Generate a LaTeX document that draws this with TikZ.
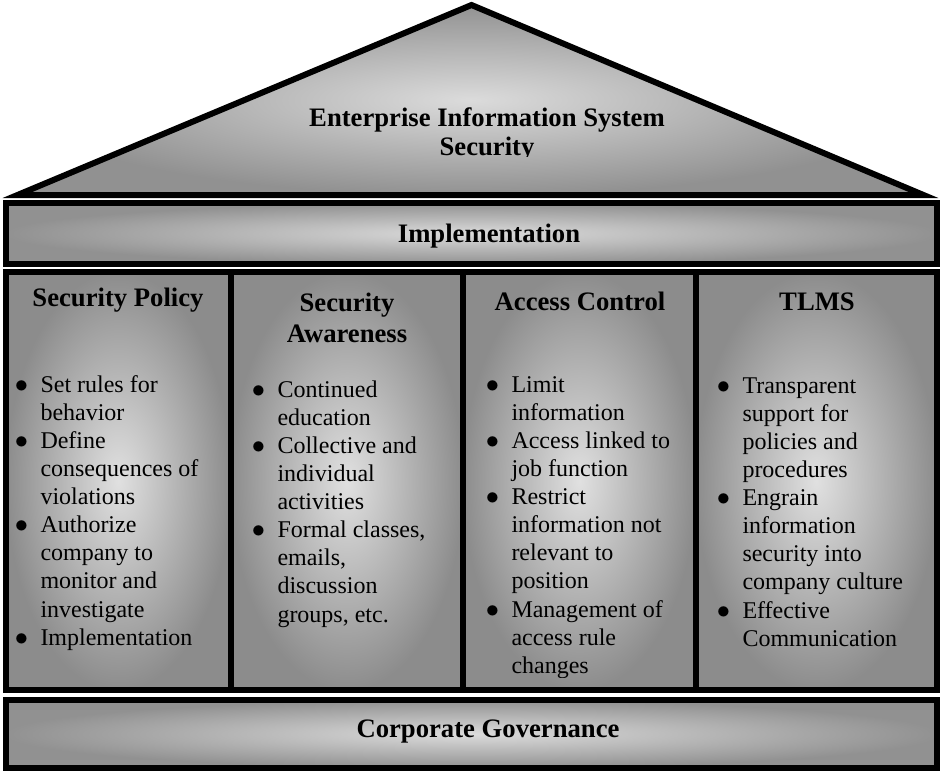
\documentclass[tikz,border=0pt]{standalone}
\usepackage{fontspec}
\setmainfont{Liberation Serif}
\usepackage{graphicx}
\usepackage{tikz}
\tikzset{every picture/.style={line width=0.75pt}}
\tikzset{
  pillar/.style={draw=black, line width=4.5pt, inner color=black!12, outer color=black!45},
  beam/.style={draw=black, line width=4.5pt, inner color=black!14, outer color=black!43},
  headtext/.style={font=\fontsize{20}{21.8}\selectfont\bfseries, inner sep=0.75pt, align=center},
  listtext/.style={font=\fontsize{18}{21.1}\selectfont, inner sep=0pt, anchor=base west},
}
\newcommand{\itemdot}{\makebox[7.5pt][c]{\scalebox{1.15}{$\bullet$}}}

\begin{document}
\begin{tikzpicture}[x=0.75pt,y=0.75pt,yscale=-1,xscale=1]
\useasboundingbox (0,0) rectangle (940,772);

%Shape: Triangle (roof)
\draw [beam, line join=miter, miter limit=25]  (17.5,195) -- (471.5,5) -- (923.5,195) -- cycle ;
%Shape: Rectangle (top beam)
\draw [beam]  (6,203) rectangle (937,264) ;
%Shape: Rectangle (pillars)
\draw [pillar]  (6,272) rectangle (230.5,690) ;
\draw [pillar]  (230.5,272) rectangle (463,690) ;
\draw [pillar]  (463,272) rectangle (695.5,690) ;
\draw [pillar]  (695.5,272) rectangle (937,690) ;
%Shape: Rectangle (base)
\draw [beam]  (6,700) rectangle (937,768) ;

% Text Node
\begin{scope}
\clip (290,90) rectangle (690,156.5);
\draw (487,106) node (roof) [anchor=north, headtext] {Enterprise Information System\\Security};
\end{scope}
% Text Node
\draw (489,242) node (impl) [anchor=base, headtext] {Implementation};
% Text Node
\draw (488,737) node (gov) [anchor=base, headtext] {Corporate Governance};

% Text Node
\draw (118,306) node (polhead) [anchor=base, headtext] {Security Policy};
% Text Node
\draw (347,291) node (awahead) [anchor=north, headtext, font=\fontsize{20}{23.3}\selectfont\bfseries] {Security\\Awareness};
% Text Node
\draw (580,310) node (acchead) [anchor=base, headtext] {Access Control};
% Text Node
\draw (817,310) node (tlmshead) [anchor=base, headtext] {TLMS};

% Text Node
\draw (16,392) node (pollist) [listtext] {\begin{tabular}[t]{@{}l@{\hspace{10.5pt}}l@{}}
\itemdot & Set rules for\\ & behavior\\
\itemdot & Define\\ & consequences of\\ & violations\\
\itemdot & Authorize\\ & company to\\ & monitor and\\ & investigate\\
\itemdot & Implementation
\end{tabular}};
% Text Node
\draw (253,397) node (awalist) [listtext] {\begin{tabular}[t]{@{}l@{\hspace{10.5pt}}l@{}}
\itemdot & Continued\\ & education\\
\itemdot & Collective and\\ & individual\\ & activities\\
\itemdot & Formal classes,\\ & emails,\\ & discussion\\ & groups, etc.
\end{tabular}};
% Text Node
\begin{scope}
\clip (466,280) rectangle (693,677);
\draw (487,392) node (acclist) [listtext] {\begin{tabular}[t]{@{}l@{\hspace{10.5pt}}l@{}}
\itemdot & Limit\\ & information\\
\itemdot & Access linked to\\ & job function\\
\itemdot & Restrict\\ & information not\\ & relevant to\\ & position\\
\itemdot & Management of\\ & access rule\\ & changes
\end{tabular}};
\end{scope}
% Text Node
\draw (718,393) node (tlmslist) [listtext] {\begin{tabular}[t]{@{}l@{\hspace{10.5pt}}l@{}}
\itemdot & Transparent\\ & support for\\ & policies and\\ & procedures\\
\itemdot & Engrain\\ & information\\ & security into\\ & company culture\\
\itemdot & Effective\\ & Communication
\end{tabular}};

\end{tikzpicture}
\end{document}
